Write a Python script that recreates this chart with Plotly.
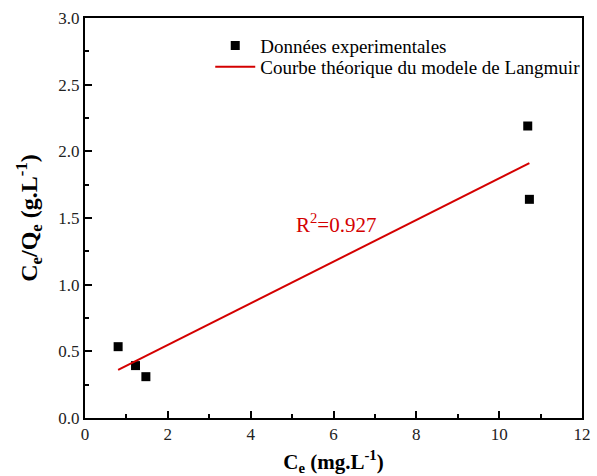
import numpy as np
import plotly.graph_objects as go

# Experimental Langmuir data
ce = [0.80, 1.22, 1.47, 10.69, 10.73]          # Ce (mg/L)
ce_over_qe = [0.535, 0.393, 0.31, 2.19, 1.64]  # Ce/Qe (g/L)

x_ticks = [0, 2, 4, 6, 8, 10, 12]
y_ticks = [0.0, 0.5, 1.0, 1.5, 2.0, 2.5, 3.0]

# Linear fit of the Langmuir linearised form
slope, intercept = np.polyfit(ce, ce_over_qe, 1)
pred = slope * np.array(ce) + intercept
ss_res = np.sum((np.array(ce_over_qe) - pred) ** 2)
ss_tot = np.sum((np.array(ce_over_qe) - np.mean(ce_over_qe)) ** 2)
r2 = 1 - ss_res / ss_tot
fit_x = [min(ce), max(ce)]
fit_y = [slope * v + intercept for v in fit_x]

FONT = "Liberation Serif"
RED = "#d40000"

fig = go.Figure()
fig.add_trace(go.Scatter(
    x=ce, y=ce_over_qe, mode="markers",
    marker=dict(symbol="square", size=9, color="black"),
    name="Données experimentales", legend="legend2",
))
fig.add_trace(go.Scatter(
    x=fit_x, y=fit_y, mode="lines",
    line=dict(color=RED, width=2),
    name="Courbe théorique du modele de Langmuir", legend="legend3",
))

fig.add_annotation(
    x=6.07, y=1.46, xref="x", yref="y",
    text=f"R<sup>2</sup>={r2:.3f}", showarrow=False,
    font=dict(family=FONT, size=21, color=RED),
)

axis_common = dict(
    showline=True, linecolor="black", linewidth=2, mirror=True,
    ticks="inside", ticklen=7, tickwidth=1.5, tickcolor="black",
    showgrid=False, zeroline=False, automargin=False,
    tickfont=dict(family=FONT, size=17, color="#222"),
)

fig.update_xaxes(
    range=[0, 12], tickvals=x_ticks,
    ticktext=[str(v) for v in x_ticks],
    minor=dict(ticks="inside", ticklen=4, tickwidth=1.5, dtick=1, tickcolor="black"),
    title=dict(text="<b>C<sub>e</sub> (mg.L<sup>-1</sup>)</b>",
               font=dict(family=FONT, size=21, color="black"), standoff=17),
    **axis_common,
)
fig.update_yaxes(
    range=[0, 3], tickvals=y_ticks,
    ticktext=[f"{v:.1f}" for v in y_ticks],
    minor=dict(ticks="inside", ticklen=4, tickwidth=1.5, dtick=0.25, tickcolor="black"),
    title=dict(text="<b>C<sub>e</sub>/Q<sub>e</sub> (g.L<sup>-1</sup>)</b>",
               font=dict(family=FONT, size=24, color="black"), standoff=14),
    **axis_common,
)

legend_style = dict(
    xanchor="left", yanchor="middle",
    font=dict(family=FONT, size=19, color="black"),
    bgcolor="rgba(0,0,0,0)", itemwidth=40,
)

fig.update_layout(
    width=597, height=476,
    margin=dict(l=85, r=15, t=18, b=58, autoexpand=False),
    paper_bgcolor="white", plot_bgcolor="white",
    showlegend=True,
    legend2=dict(x=0.252, y=(418 - 45.7) / 400, **legend_style),
    legend3=dict(x=0.252, y=(418 - 67) / 400, **legend_style),
)

fig.write_html("out.html")
